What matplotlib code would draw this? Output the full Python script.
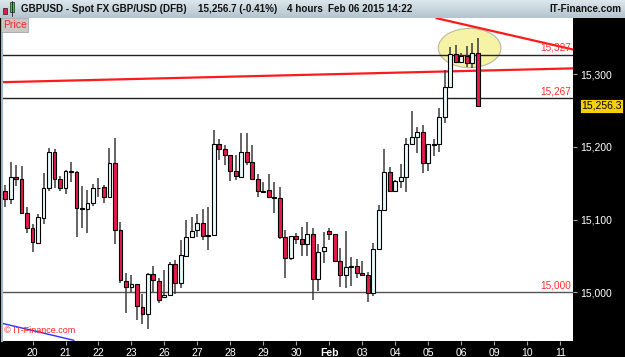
import numpy as np
import matplotlib; matplotlib.use("Agg")
import matplotlib.pyplot as plt
from matplotlib.patches import Ellipse, Rectangle
from matplotlib.colors import LinearSegmentedColormap

plt.rcParams['font.family'] = ['Liberation Sans', 'DejaVu Sans']

# 4-hour GBP/USD candles (prices x10000, as quoted on the chart)
opens = [15139, 15128, 15159, 15156, 15109, 15088, 15068, 15102, 15143, 15193,
         15156, 15143, 15167, 15165, 15116, 15115, 15123, 15143, 15145, 15131,
         15178, 15086, 15016, 15007, 15011, 14980, 14970, 15025, 15016, 14994,
         14996, 15039, 15013, 15050, 15076, 15086, 15095, 15079, 15079, 15204,
         15197, 15189, 15167, 15159, 15193, 15179, 15156, 15139, 15141, 15131,
         15130, 15076, 15047, 15077, 15073, 15066, 15080, 15018, 15057, 15084,
         15080, 15043, 15024, 15035, 15036, 15027, 15024, 14999, 15060, 15113,
         15165, 15139, 15153, 15159, 15204, 15214, 15220, 15178, 15204, 15204,
         15241, 15282, 15328, 15317, 15325, 15315, 15329]
highs = [15148, 15179, 15175, 15174, 15117, 15094, 15108, 15164, 15198, 15197,
         15160, 15168, 15179, 15167, 15146, 15141, 15149, 15157, 15148, 15198,
         15212, 15097, 15027, 15024, 15011, 14998, 15027, 15036, 15020, 15031,
         15042, 15044, 15072, 15099, 15104, 15108, 15115, 15117, 15223, 15211,
         15203, 15189, 15189, 15219, 15219, 15203, 15163, 15152, 15163, 15152,
         15145, 15086, 15077, 15082, 15090, 15097, 15088, 15066, 15083, 15088,
         15080, 15061, 15084, 15049, 15046, 15043, 15028, 15068, 15120, 15197,
         15172, 15154, 15176, 15212, 15249, 15227, 15230, 15204, 15211, 15254,
         15306, 15337, 15340, 15329, 15339, 15343, 15350]
lows = [15117, 15121, 15146, 15109, 15082, 15055, 15068, 15094, 15139, 15143,
        15139, 15135, 15152, 15076, 15088, 15082, 15119, 15131, 15123, 15131,
        15066, 15013, 14972, 15000, 14962, 14956, 14950, 15000, 14985, 14994,
        14995, 14998, 15006, 15050, 15075, 15076, 15072, 15058, 15079, 15182,
        15175, 15153, 15154, 15157, 15175, 15156, 15131, 15138, 15130, 15109,
        15073, 15020, 15044, 15066, 15050, 15050, 14989, 15002, 15040, 15072,
        15043, 15007, 15006, 15009, 15020, 15022, 14987, 14995, 15058, 15113,
        15138, 15139, 15143, 15138, 15203, 15192, 15164, 15167, 15187, 15193,
        15233, 15282, 15317, 15315, 15310, 15309, 15255]
closes = [15128, 15159, 15156, 15109, 15088, 15069, 15104, 15143, 15193, 15156,
          15143, 15167, 15165, 15116, 15115, 15123, 15143, 15144, 15131, 15178,
          15086, 15017, 15007, 15011, 14981, 14970, 15025, 15017, 14989, 14996,
          15039, 15013, 15051, 15076, 15084, 15095, 15077, 15078, 15204, 15197,
          15189, 15167, 15160, 15193, 15179, 15156, 15139, 15138, 15131, 15130,
          15076, 15047, 15077, 15073, 15066, 15080, 15018, 15055, 15062, 15080,
          15043, 15024, 15035, 15036, 15027, 15024, 14999, 15060, 15113, 15165,
          15139, 15153, 15159, 15204, 15214, 15220, 15178, 15204, 15203, 15241,
          15282, 15328, 15317, 15325, 15315, 15329, 15256.3]

day_labels = ["20", "21", "22", "23", "26", "27", "28", "29", "30", "Feb",
              "03", "04", "05", "06", "09", "10", "11"]
yticks = [15000, 15100, 15200, 15300]
levels = [15327, 15267, 15000]
last_price = 15256.3

# trendlines (bar index, price)
down_line = ([78.5, 103.3], [15377, 15334])
up_line = ([-0.55, 103.3], [15289, 15308])
blue_line = ([-0.9, 12.5], [14958, 14934])

RED = "#e8194d"
WHITE_BODY = "#e9fbfb"

fig = plt.figure(figsize=(6.25, 3.57), dpi=100, facecolor="black")
ax = fig.add_axes([2 / 625, 16 / 357, 571 / 625, 323 / 357])
ax.set_facecolor("white")

n = len(opens)
x = np.arange(n)
o = np.array(opens); h = np.array(highs); l = np.array(lows); c = np.array(closes)
up = c >= o

ax.add_patch(Ellipse((84.5, 15336), 11.4, 54, facecolor="#f6f2a6",
                     edgecolor="#b8b8a0", lw=0.8, zorder=1))
for lv in levels:
    ax.axhline(lv, color="#222222" if lv != 15000 else "#555555", lw=1.0, zorder=2)
ax.plot(*up_line, color="#ff1a1a", lw=1.6, zorder=2)
ax.plot(*down_line, color="#ff1a1a", lw=1.6, zorder=2)
ax.plot(*blue_line, color="#3030ff", lw=1.0, zorder=2)

ax.vlines(x, l, h, color="#3a3a3a", lw=1.1, zorder=3)
ax.bar(x, np.abs(c - o), bottom=np.minimum(o, c), width=0.72,
       color=np.where(up, WHITE_BODY, RED), edgecolor="black", lw=0.8, zorder=4)

for lv in levels:
    ax.text(103.0, lv + 3, f"{lv:,}", color="#ff3030", fontsize=7.2,
            ha="right", va="bottom", zorder=5)

ax.set_xlim(-0.55, 103.3)
ax.set_ylim(14933, 15377.3)
ax.set_xticks([5 + 6 * k for k in range(len(day_labels))])
ax.set_xticklabels(day_labels)
for t in ax.get_xticklabels():
    if t.get_text() == "Feb":
        t.set_fontweight("bold")
ax.yaxis.tick_right()
ax.set_yticks(yticks)
ax.set_yticklabels([f"{v:,}" for v in yticks])
ax.tick_params(axis="both", colors="#aaaaaa", labelcolor="white", labelsize=7.5,
               length=3, width=0.8, pad=2)
for s in ("top", "right", "bottom"):
    ax.spines[s].set_visible(False)
ax.spines["left"].set_color("#9fb4c0")
ax.spines["left"].set_linewidth(1.5)

ax.text(0.004, 0.02, "\u00a9 IT-Finance.com", transform=ax.transAxes,
        color="#ff2020", fontsize=6.5, ha="left", va="bottom")

# current price tag on right axis
ax.annotate(f"{last_price:,.1f}", xy=(1.0, last_price), xycoords=("axes fraction", "data"),
            xytext=(6, 0), textcoords="offset points", ha="left", va="center",
            fontsize=7.5, color="black",
            bbox=dict(boxstyle="square,pad=0.15", fc="#f7d000", ec="black", lw=0.6))

# header bar
hax = fig.add_axes([0, 339 / 357, 1, 18 / 357])
hax.imshow(np.linspace(0, 1, 20)[:, None], aspect="auto",
           cmap=LinearSegmentedColormap.from_list("h", ["#dce6ec", "#b3c5cf"]),
           extent=[0, 625, 0, 18], origin="upper")
hax.set_xlim(0, 625); hax.set_ylim(0, 18); hax.axis("off")
hax.add_patch(Rectangle((3, 4), 4, 6, fc="#e8194d", ec="black", lw=0.4))
hax.add_patch(Rectangle((9.5, 6), 4.5, 10, fc="#30d040", ec="black", lw=0.4))
hax.plot([11.75, 11.75], [2, 17], color="black", lw=0.5)
hkw = dict(fontsize=7.1, fontweight="bold", color="#111111", va="center")
hax.text(21, 9, "GBPUSD - Spot FX GBP/USD (DFB)", ha="left", **hkw)
hax.text(198, 9, "15,256.7 (-0.41%)", ha="left", **hkw)
hax.text(287, 9, "4 hours", ha="left", **hkw)
hax.text(328, 9, "Feb 06 2015 14:22", ha="left", **hkw)
hax.text(621, 9, "IT-Finance.com", ha="right", **hkw)

# "Price" tag
fig.text(3 / 625, 1 - 25 / 357, "Price", color="#ff2020", fontsize=7.5, va="center", ha="left",
         bbox=dict(boxstyle="square,pad=0.15", fc="#c8c8c8", ec="#999999", lw=0.5))

fig.savefig("out.png", dpi=100, facecolor=fig.get_facecolor())
